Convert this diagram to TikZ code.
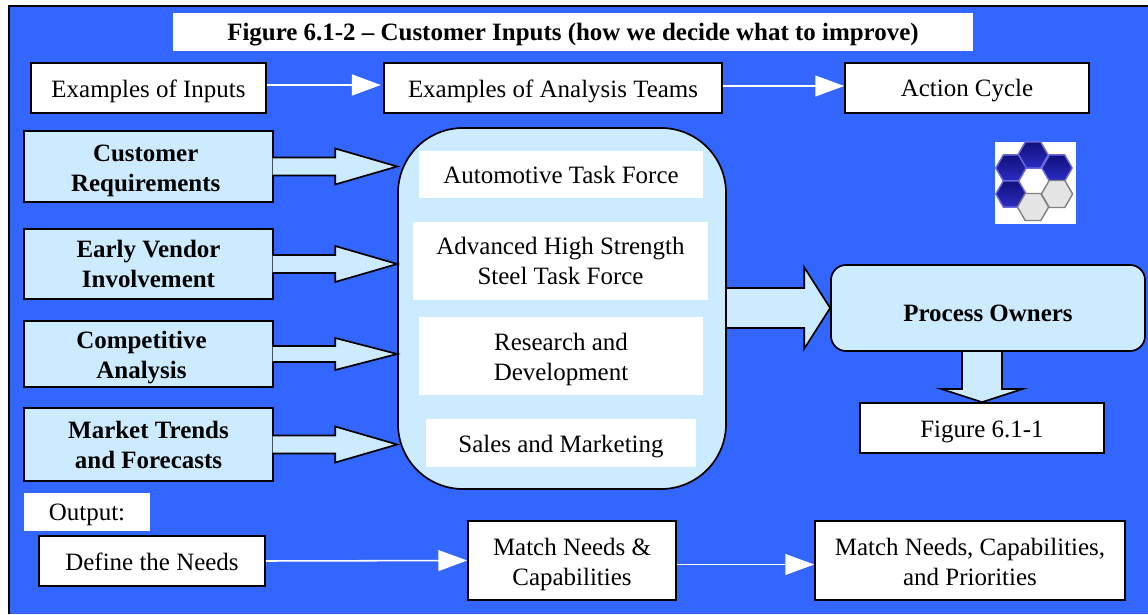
\documentclass[tikz,border=0pt]{standalone}
\usepackage{fontspec}
\setmainfont{Liberation Serif}
\usetikzlibrary{arrows.meta,calc,backgrounds}

\definecolor{bgblue}{HTML}{3366FF}
\definecolor{paleblue}{HTML}{CCEBFF}
\definecolor{hexdark}{HTML}{10107A}
\definecolor{hexmid}{HTML}{2C2CC4}
\definecolor{hexedge}{HTML}{6A6AE0}

\tikzstyle{plainbox} = [rectangle,fill=white,inner sep=0pt,align=center,font=\fontsize{17.75}{21.3}\selectfont]
\tikzstyle{whitebox} = [plainbox,draw=black,line width=1.2pt]
\tikzstyle{inputbox} = [whitebox,fill=paleblue,font=\fontsize{17.75}{21.3}\selectfont\bfseries,minimum width=6.225cm]
\tikzstyle{thinarrow} = [draw=white,line width=1.1pt,-{Triangle[length=0.72cm,width=0.52cm]}]
\tikzstyle{fatline} = [draw=black,fill=paleblue,line width=1.2pt,line join=miter]
\tikzstyle{hexblue} = [draw=hexedge,line width=1pt,top color=hexdark,bottom color=hexmid]
\tikzstyle{hexgrey} = [draw=gray,line width=1pt,fill=black!10]

% pushes the text of a node down
\newcommand{\push}[1]{\rule{0pt}{#1}}

% start, tip, half shaft, half head, head length
\newcommand{\fatarrow}[5]{
	\coordinate (fa0) at (#1);
	\coordinate (fa1) at (#2);
	\coordinate (fas) at ($(fa0)!-0.03cm!(fa1)$);
	\coordinate (fab) at ($(fa1)!#5!(fa0)$);
	\filldraw[fatline] ($(fas)!#3!90:(fa1)$) -- ($(fab)!#3!90:(fa1)$) -- ($(fab)!#4!90:(fa1)$) -- (fa1)
		-- ($(fab)!#4!-90:(fa1)$) -- ($(fab)!#3!-90:(fa1)$) -- ($(fas)!#3!-90:(fa1)$);
}

\begin{document}
\begin{tikzpicture}
	\useasboundingbox (0,0) rectangle (28.7,15.35);
	
	\node[plainbox,minimum width=20cm,minimum height=0.95cm,font=\fontsize{17.75}{21.3}\selectfont\bfseries] (title) at (14.325,14.55) {\push{16.5pt}Figure 6.1-2 -- Customer Inputs (how we decide what to improve)};
	
	\node[whitebox,minimum width=5.875cm,minimum height=1.25cm] (inputs) at (3.7125,13.15) {\push{17.7pt}Examples of Inputs};
	\node[whitebox,minimum width=8.45cm,minimum height=1.25cm] (teams) at (13.825,13.15) {\push{17.7pt}Examples of Analysis Teams};
	\node[whitebox,minimum width=6.1cm,minimum height=1.25cm] (cycle) at (24.175,13.15) {\push{16.5pt}Action Cycle};
	
	\draw[thinarrow,line width=1.5pt,shorten >=0.06cm] ([yshift=0.075cm]inputs.east) -- ([yshift=0.075cm]teams.west);
	\draw[thinarrow] ([yshift=0.05cm]teams.east) -- ([yshift=0.05cm]cycle.west);
	
	\node[inputbox,minimum height=1.775cm] (req) at (3.7125,11.1875) {\push{18pt}Customer\hspace*{4pt}\\Requirements\hspace*{4pt}};
	\node[inputbox,minimum height=1.75cm] (vendor) at (3.7125,8.75) {Early Vendor\\Involvement};
	\node[inputbox,minimum height=1.65cm] (comp) at (3.7125,6.5) {\push{17.7pt}Competitive\hspace*{10pt}\\Analysis\hspace*{10pt}};
	\node[inputbox,minimum height=1.825cm] (market) at (3.7125,4.2375) {\push{13.4pt}Market Trends\\and Forecasts};
	
	\node[whitebox,fill=paleblue,rounded corners=1.625cm,minimum width=8.2cm,minimum height=9.025cm] (tasks) at (14.05,7.6375) {};
	\node[plainbox,minimum width=7.1cm,minimum height=1.175cm] (auto) at (14.025,10.9875) {\push{13.4pt}Automotive Task Force};
	\node[plainbox,minimum width=7.375cm,minimum height=1.95cm] (steel) at (14.0125,8.825) {Advanced High Strength\\Steel Task Force};
	\node[plainbox,minimum width=7.1cm,minimum height=1.95cm] (research) at (14.025,6.45) {\push{17.7pt}Research and\\Development};
	\node[plainbox,minimum width=6.75cm,minimum height=1.2cm] (sales) at (14.025,4.275) {\push{17.7pt}Sales and Marketing};
	
	\fatarrow{req.east}{tasks.west |- req.east}{0.225cm}{0.45cm}{1.55cm}
	\fatarrow{vendor.east}{tasks.west |- vendor.east}{0.225cm}{0.45cm}{1.55cm}
	\fatarrow{comp.east}{tasks.west |- comp.east}{0.2cm}{0.4cm}{1.55cm}
	\fatarrow{market.east}{tasks.west |- market.east}{0.225cm}{0.45cm}{1.55cm}
	
	\node[whitebox,fill=paleblue,rounded corners=0.375cm,minimum width=7.85cm,minimum height=2.15cm,font=\fontsize{17.75}{21.3}\selectfont\bfseries] (owners) at (24.7,7.65) {\push{19pt}Process Owners};
	\node[whitebox,minimum width=6.1cm,minimum height=1.25cm] (fig) at (24.55,4.65) {\push{17.7pt}Figure 6.1-1};
	
	\begin{pgfonlayer}{background}
		\fill[bgblue] (0.225,0) rectangle (28.7,15.19);
		\draw[line width=1.3pt] (0.225,0) -- (0.225,15.19) -- (28.7,15.19);
		\fatarrow{tasks.east |- owners.west}{owners.west}{0.5cm}{1.02cm}{0.65cm}
		\fatarrow{fig.north |- owners.south}{fig.north}{0.5cm}{1.02cm}{0.33cm}
	\end{pgfonlayer}
	
	\node[plainbox,minimum width=2.025cm,minimum height=2.05cm] (logo) at (25.8875,10.775) {};
	\foreach \x/\y in {25.825/11.475,25.275/11.15,26.425/11.15,25.275/10.5}
		\draw[hexblue] (\x,\y) +(0:0.38) -- +(60:0.38) -- +(120:0.38) -- +(180:0.38) -- +(240:0.38) -- +(300:0.38) -- cycle;
	\foreach \x/\y in {26.425/10.5,25.825/10.175}
		\draw[hexgrey] (\x,\y) +(0:0.39) -- +(60:0.39) -- +(120:0.39) -- +(180:0.39) -- +(240:0.39) -- +(300:0.39) -- cycle;
	
	\node[plainbox,minimum width=3.15cm,minimum height=0.95cm] (output) at (2.175,2.55) {\push{16.5pt}Output:};
	\node[whitebox,minimum width=5.65cm,minimum height=1.25cm] (needs) at (3.8,1.325) {\push{13.4pt}Define the Needs};
	\node[whitebox,minimum width=5.2cm,minimum height=1.975cm] (match) at (14.3,1.3375) {\push{17.7pt}Match Needs \&\\Capabilities};
	\node[whitebox,minimum width=7.75cm,minimum height=1.975cm] (priorities) at (24.25,1.3375) {\push{14.8pt}Match Needs, Capabilities,\\and Priorities};
	
	\draw[thinarrow] (needs.east) -- (match.west);
	\draw[thinarrow] ([yshift=-0.1cm]match.east) -- ([yshift=-0.1cm]priorities.west);
\end{tikzpicture}
\end{document}
